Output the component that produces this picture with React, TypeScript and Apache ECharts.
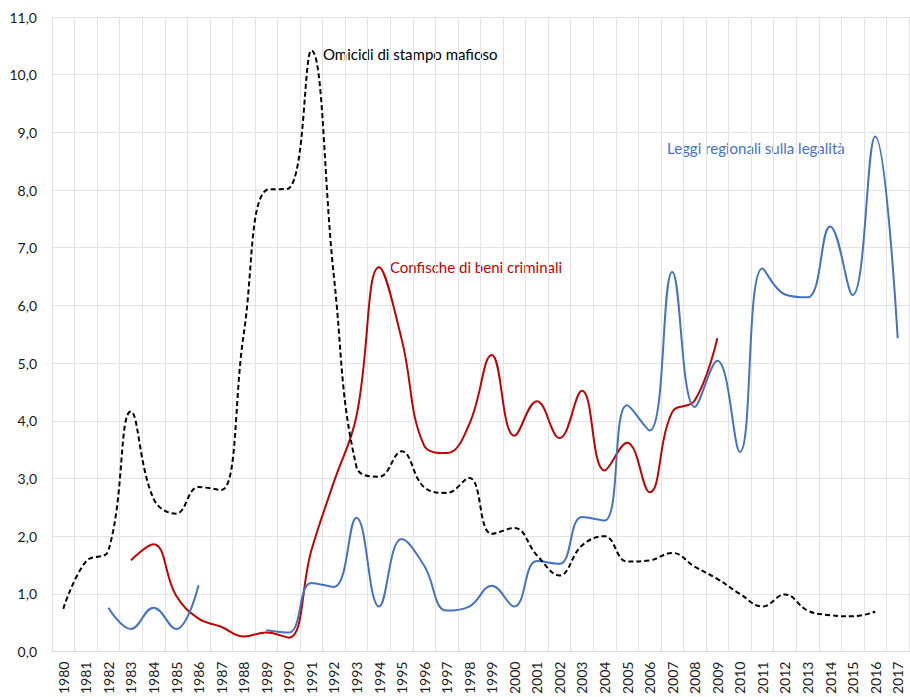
import React, { useEffect, useRef } from "react";
import * as echarts from "echarts";

const years = [
  "1980","1981","1982","1983","1984","1985","1986","1987","1988","1989",
  "1990","1991","1992","1993","1994","1995","1996","1997","1998","1999",
  "2000","2001","2002","2003","2004","2005","2006","2007","2008","2009",
  "2010","2011","2012","2013","2014","2015","2016","2017",
];

const omicidi = [
  0.74, 1.56, 1.75, 4.16, 2.65, 2.39, 2.85, 2.8, 5.5, 8.0,
  8.03, 10.42, 6.5, 3.2, 3.03, 3.47, 2.85, 2.75, 3.01, 2.04,
  2.14, 1.67, 1.32, 1.84, 2.0, 1.56, 1.58, 1.71, 1.47, 1.26,
  1.0, 0.78, 0.99, 0.71, 0.63, 0.61, 0.69, null,
];

const confische = [
  null, null, null, 1.58, 1.86, 0.97, 0.57, 0.43, 0.26, 0.33,
  0.24, 1.75, 2.94, 4.08, 6.66, 5.42, 3.57, 3.44, 3.94, 5.14,
  3.74, 4.34, 3.7, 4.52, 3.14, 3.62, 2.76, 4.15, 4.35, 5.43,
  null, null, null, null, null, null, null, null,
];

const leggi = [
  null, null, 0.76, 0.39, 0.76, 0.39, 1.15, null, null, 0.37,
  0.33, 1.19, 1.12, 2.32, 0.78, 1.95, 1.49, 0.71, 0.78, 1.14,
  0.78, 1.57, 1.52, 2.33, 2.27, 4.27, 3.83, 6.58, 4.24, 5.04,
  3.46, 6.64, 6.19, 6.14, 7.37, 6.18, 8.93, 5.43,
];

const seriesNames = [
  "Omicidi di stampo mafioso",
  "Confische di beni criminali",
  "Leggi regionali sulla legalità",
];

const FONT = "Lato, 'Open Sans', sans-serif";

export default function App() {
  const ref = useRef<HTMLDivElement>(null);

  useEffect(() => {
    if (!ref.current) return;
    const chart = echarts.init(ref.current, undefined, { renderer: "svg" });
    chart.setOption({
      animation: false,
      backgroundColor: "#ffffff",
      textStyle: { fontFamily: FONT },
      grid: { left: 52, right: 1, top: 17, bottom: 44, containLabel: false },
      xAxis: {
        type: "category",
        data: years,
        boundaryGap: true,
        axisLine: { show: true, lineStyle: { color: "#d9d9d9", width: 1 } },
        axisTick: { show: false },
        splitLine: { show: true, interval: 0, lineStyle: { color: "#e3e3e3", width: 1 } },
        axisLabel: {
          interval: 0,
          rotate: 90,
          margin: 10,
          fontSize: 14,
          color: "#1a1a1a",
          fontFamily: FONT,
        },
      },
      yAxis: {
        type: "value",
        min: 0,
        max: 11,
        interval: 1,
        axisLine: { show: false },
        axisTick: { show: false },
        splitLine: { show: true, lineStyle: { color: "#e3e3e3", width: 1 } },
        axisLabel: {
          margin: 15,
          fontSize: 14,
          color: "#1a1a1a",
          fontFamily: FONT,
          formatter: (v: number) => v.toFixed(1).replace(".", ","),
        },
      },
      series: [
        {
          name: seriesNames[0],
          type: "line",
          data: omicidi,
          smooth: 0.42,
          showSymbol: false,
          connectNulls: false,
          lineStyle: { color: "#000000", width: 2, type: [5, 3] },
          itemStyle: { color: "#000000" },
          z: 3,
        },
        {
          name: seriesNames[1],
          type: "line",
          data: confische,
          smooth: 0.42,
          showSymbol: false,
          connectNulls: false,
          lineStyle: { color: "#c00000", width: 2 },
          itemStyle: { color: "#c00000" },
          z: 2,
        },
        {
          name: seriesNames[2],
          type: "line",
          data: leggi,
          smooth: 0.42,
          showSymbol: false,
          connectNulls: false,
          lineStyle: { color: "#4472c4", width: 2 },
          itemStyle: { color: "#4472c4" },
          z: 2,
        },
      ],
      graphic: [
        {
          type: "text",
          left: 323,
          top: 46,
          style: { text: seriesNames[0], fill: "#000000", font: `15px ${FONT}` },
        },
        {
          type: "text",
          left: 390,
          top: 259,
          style: { text: seriesNames[1], fill: "#c00000", font: `15px ${FONT}` },
        },
        {
          type: "text",
          left: 667,
          top: 140,
          style: { text: seriesNames[2], fill: "#4472c4", font: `15px ${FONT}` },
        },
      ],
    });
    return () => chart.dispose();
  }, []);

  return (
    <div
      ref={ref}
      style={{
        position: "absolute",
        left: 0,
        top: 0,
        width: 910,
        height: 697,
        fontVariantLigatures: "none",
      }}
    />
  );
}
